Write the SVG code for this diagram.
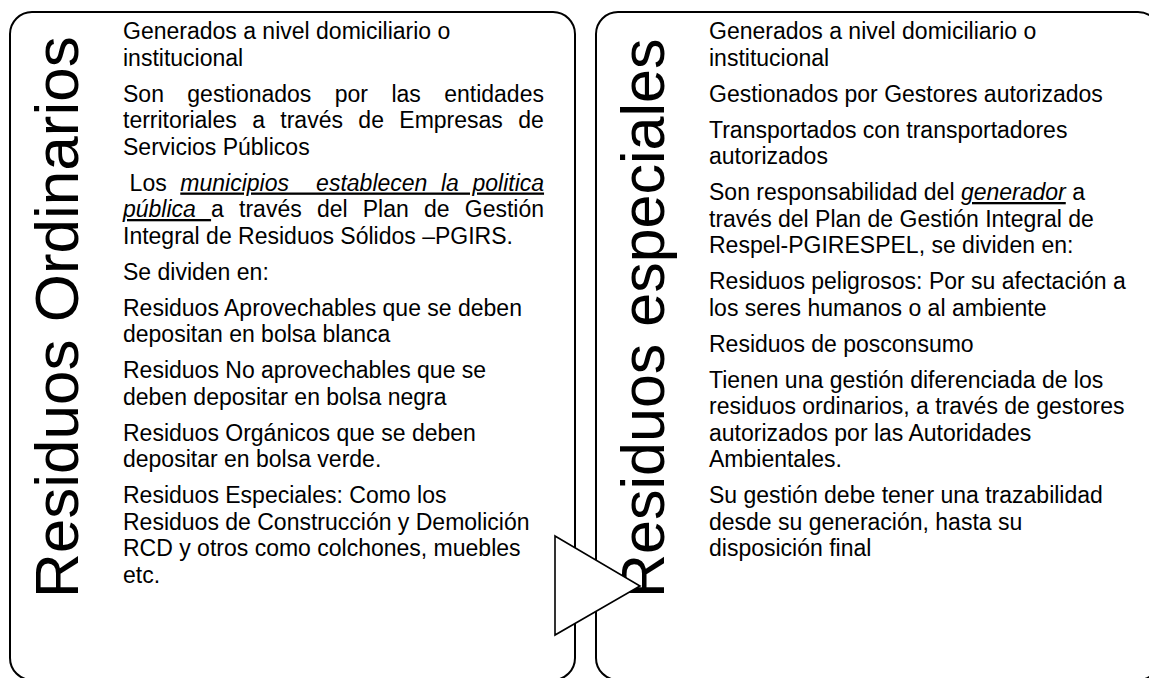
<svg xmlns="http://www.w3.org/2000/svg" width="1149" height="678" viewBox="0 0 1149 678">
<style>
.box{fill:#ffffff;stroke:#000000;stroke-width:2}
.title{font-family:"Liberation Sans",Arial,sans-serif;font-size:62px;fill:#000000}
.t{font-family:"Liberation Sans",Arial,sans-serif;font-size:23px;fill:#000000}
.em{font-style:italic;text-decoration:underline}
.arrow{fill:#ffffff;stroke:#000000;stroke-width:1.6;stroke-linejoin:miter}
</style>
<rect width="1149" height="678" fill="#ffffff"/>
<g id="node-ordinarios">
<rect class="box" x="10" y="12" width="565" height="668" rx="22" ry="22"/>
<text class="title" transform="translate(78,598) rotate(-90)">Residuos Ordinarios</text>
<text class="t" x="123" y="39">Generados a nivel domiciliario o</text>
<text class="t" x="123" y="65.5">institucional</text>
<text class="t" x="123" y="101.5" word-spacing="17">Son gestionados por las entidades</text>
<text class="t" x="123" y="128" word-spacing="9">territoriales a través de Empresas de</text>
<text class="t" x="123" y="154.5">Servicios Públicos</text>
<text class="t" x="129.6" y="190.5" word-spacing="7.2" xml:space="preserve">Los <tspan class="em">municipios  establecen la politica</tspan></text>
<text class="t" x="123" y="217" word-spacing="8.8"><tspan class="em">pública </tspan>a través del Plan de Gestión</text>
<text class="t" x="123" y="243.5">Integral de Residuos Sólidos –PGIRS.</text>
<text class="t" x="123" y="279.5">Se dividen en:</text>
<text class="t" x="123" y="315.5">Residuos Aprovechables que se deben</text>
<text class="t" x="123" y="342">depositan en bolsa blanca</text>
<text class="t" x="123" y="378">Residuos No aprovechables que se</text>
<text class="t" x="123" y="404.5">deben depositar en bolsa negra</text>
<text class="t" x="123" y="440.5">Residuos Orgánicos que se deben</text>
<text class="t" x="123" y="467">depositar en bolsa verde.</text>
<text class="t" x="123" y="503">Residuos Especiales: Como los</text>
<text class="t" x="123" y="529.5">Residuos de Construcción y Demolición</text>
<text class="t" x="123" y="556">RCD y otros como colchones, muebles</text>
<text class="t" x="123" y="582.5">etc.</text>
</g>
<g id="node-especiales">
<rect class="box" x="596" y="12" width="564" height="668" rx="22" ry="22"/>
<text class="title" style="font-size:61px" transform="translate(664,598) rotate(-90)">Residuos especiales</text>
<text class="t" x="709" y="39">Generados a nivel domiciliario o</text>
<text class="t" x="709" y="65.5">institucional</text>
<text class="t" x="709" y="101.5">Gestionados por Gestores autorizados</text>
<text class="t" x="709" y="137.5">Transportados con transportadores</text>
<text class="t" x="709" y="164">autorizados</text>
<text class="t" x="709" y="200">Son responsabilidad del <tspan class="em">generador</tspan> a</text>
<text class="t" x="709" y="226.5">través del Plan de Gestión Integral de</text>
<text class="t" x="709" y="253">Respel-PGIRESPEL, se dividen en:</text>
<text class="t" x="709" y="289">Residuos peligrosos: Por su afectación a</text>
<text class="t" x="709" y="315.5">los seres humanos o al ambiente</text>
<text class="t" x="709" y="351.5">Residuos de posconsumo</text>
<text class="t" x="709" y="387.5">Tienen una gestión diferenciada de los</text>
<text class="t" x="709" y="414">residuos ordinarios, a través de gestores</text>
<text class="t" x="709" y="440.5">autorizados por las Autoridades</text>
<text class="t" x="709" y="467">Ambientales.</text>
<text class="t" x="709" y="503">Su gestión debe tener una trazabilidad</text>
<text class="t" x="709" y="529.5">desde su generación, hasta su</text>
<text class="t" x="709" y="556">disposición final</text>
</g>
<g id="connectors">
<polygon class="arrow" points="555,536 640,586 555,635"/>
</g>
</svg>
